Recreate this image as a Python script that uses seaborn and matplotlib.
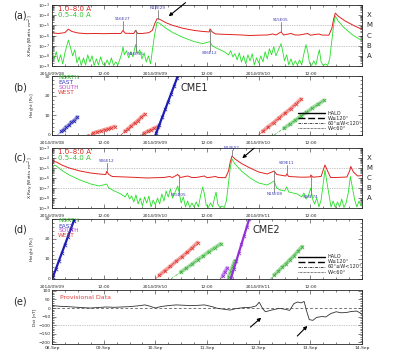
import numpy as np
import matplotlib.pyplot as plt
import seaborn as sns
from matplotlib.ticker import MultipleLocator, FixedLocator, LogLocator, NullFormatter, LogFormatterMathtext
from matplotlib.transforms import blended_transform_factory

sns.set_style("ticks")
plt.rcParams['font.family'] = ['DejaVu Sans']
plt.rcParams['axes.linewidth'] = 0.6

# GOES long channel (1-8 A), hours from 2014/09/08 00:00, log10 flux
long_t = [0, 1.5, 3.0, 3.8, 4.6, 6, 8, 10, 12, 14,
          16, 16.5, 17.0, 19.0, 19.4, 19.9, 21, 22.5, 23.3, 23.9,
          24.4, 25.0, 26.5, 28, 30.5, 33, 35, 36.5, 36.7, 37.2,
          38, 41, 44, 46, 48, 50, 51.3, 52, 53.2, 53.8,
          55.5, 56.5, 57.5, 59.4, 60, 62, 62.6, 64.3, 65.0, 65.4,
          65.8, 66.5, 68, 70, 72, 74, 75.6, 76.2, 78.3, 78.5,
          79, 82, 84, 84.1, 84.6, 86.5, 87.0, 87.4, 88, 88.7,
          90, 92.5, 93.2, 93.4, 94, 95, 96]
long_v = [-5.75, -5.8, -5.72, -5.38, -5.6, -5.75, -5.82, -5.8, -5.82, -5.8,
          -5.8, -5.5, -5.78, -5.8, -5.5, -5.8, -5.8, -5.72, -5.5, -4.8,
          -4.35, -4.4, -4.75, -5.0, -5.3, -5.5, -5.6, -5.65, -5.35, -5.65,
          -5.85, -5.9, -5.95, -6.0, -5.97, -5.95, -5.85, -5.95, -5.65, -5.95,
          -5.8, -5.95, -5.95, -5.8, -5.97, -5.85, -5.95, -5.97, -5.3, -4.4,
          -3.8, -4.1, -4.55, -5.0, -5.4, -5.6, -5.3, -5.65, -5.8, -5.6,
          -5.85, -5.92, -5.9, -5.7, -5.92, -5.85, -5.2, -4.7, -5.3, -5.95,
          -5.95, -5.9, -5.2, -4.85, -5.4, -5.8, -5.75]

# GOES short channel (0.5-4 A)
short_t = [0, 0.5, 1, 1.5, 2, 2.5, 3, 3.8, 4.3, 4.8,
           5.3, 5.8, 6.3, 6.8, 7.3, 7.8, 8.3, 8.8, 9.3, 9.8,
           10.3, 10.8, 11.3, 11.8, 12.3, 12.8, 13.3, 13.8, 14.3, 14.8,
           15.3, 15.8, 16.3, 16.5, 16.8, 17.3, 17.8, 18.3, 18.8, 19.4,
           19.9, 20.4, 20.9, 21.4, 21.9, 22.4, 22.9, 23.3, 23.8, 24.4,
           25, 26.5, 28, 30.5, 33, 35, 36.7, 37.2, 38.5, 40,
           41, 41.5, 42, 42.5, 43, 43.5, 44, 44.5, 45, 45.5,
           46, 46.5, 47, 47.5, 48, 48.5, 49, 49.5, 50, 50.5,
           51, 51.5, 52, 52.6, 53.2, 53.6, 54, 54.5, 55, 55.5,
           56, 56.5, 57, 57.5, 58, 58.5, 59.0, 59.4, 59.8, 60.3,
           60.8, 61.3, 61.8, 62.1, 62.5, 63, 63.5, 64, 64.5, 65.0,
           65.4, 65.8, 66.5, 68, 70, 72, 74, 75.6, 76.2, 77,
           78, 78.5, 79, 80, 81, 82, 82.5, 83, 83.5, 84.1,
           84.6, 85, 85.5, 86, 86.5, 87.0, 87.4, 87.8, 88.3, 88.8,
           89.3, 89.8, 90.3, 90.8, 91.3, 91.8, 92.3, 92.8, 93.3, 93.8,
           94.3, 94.8, 95.3, 95.8, 96]
short_v = [-7.5, -8.3, -7.6, -8.6, -7.9, -8.8, -7.7, -6.45, -7.2, -8.0,
           -7.4, -8.7, -8.1, -8.95, -8.2, -8.9, -7.9, -8.6, -8.0, -8.95,
           -8.3, -8.9, -8.1, -8.8, -8.95, -8.4, -8.9, -8.2, -8.95, -8.6,
           -8.9, -8.3, -7.6, -7.1, -7.9, -7.5, -8.2, -7.6, -8.1, -6.9,
           -7.8, -7.4, -8.3, -7.7, -8.6, -8.0, -8.8, -7.5, -6.0, -4.7,
           -4.8, -5.3, -5.7, -6.2, -6.6, -6.8, -6.6, -7.0, -7.3, -7.6,
           -7.9, -7.5, -8.1, -7.8, -8.4, -7.7, -8.6, -8.0, -8.8, -7.9,
           -8.5, -7.8, -8.9, -8.2, -8.7, -8.0, -8.6, -7.6, -8.3, -7.3,
           -7.9, -7.1, -8.0, -7.4, -6.8, -7.6, -8.5, -7.9, -8.9, -8.3,
           -8.95, -8.5, -8.9, -8.4, -8.9, -7.8, -6.9, -7.6, -8.7, -8.95,
           -8.5, -8.9, -7.9, -7.4, -8.6, -8.95, -8.8, -8.95, -8.3, -6.5,
           -5.0, -4.1, -4.6, -5.3, -6.0, -6.5, -6.7, -6.3, -7.0, -7.2,
           -7.3, -6.9, -7.4, -7.5, -7.6, -7.9, -7.5, -8.1, -7.8, -7.0,
           -8.2, -8.6, -8.0, -8.9, -8.2, -6.5, -5.2, -6.3, -7.6, -8.9,
           -8.3, -8.95, -8.4, -8.9, -8.1, -8.95, -8.5, -7.5, -5.85, -7.0,
           -8.2, -8.9, -8.3, -8.8, -8.4]

# flare source labels: time, text, log10 position of label
flare_a_t = [16.5, 19.4, 24.6, 36.6, 53.2]
flare_a_lbl = ['S16E27', 'N16E35', 'N12E29', 'S06E12', 'S15E05']
flare_a_pos = [-4.6, -7.6, -3.45, -7.5, -4.65]
flare_c_t = [36.7, 53.4, 65.8, 75.6, 78.5, 84.1]
flare_c_lbl = ['S06E12', 'S15E05', 'N14E02', 'N15E08', 'S09E11', 'S08E74']
flare_c_pos = [-4.55, -7.5, -3.2, -7.4, -4.75, -7.7]

class_names = ['X', 'M', 'C', 'B', 'A']
class_levels = [-4, -5, -6, -7, -8]

# CME height-time points (hours from 2014/09/08 00:00, solar radii)
cme_t = [[2.2, 2.7, 3.3, 3.9, 4.5, 5.1, 5.9],
         [9.6, 10.5, 11.3, 12.2, 13.0, 13.8, 14.6],
         [16.9, 17.6, 18.4, 19.2, 19.9, 20.7, 21.5],
         [21.4, 22.2, 23.0, 23.8, 24.6],
         [24.2, 24.9, 25.6, 26.3, 27.0, 27.7, 28.4, 29.0],
         [48.9, 50.2, 51.5, 52.8, 54.1, 55.4, 56.6, 57.8],
         [53.9, 55.2, 56.5, 57.8, 59.1, 60.4, 61.8, 63.2],
         [63.6, 64.1, 64.7],
         [65.0, 65.5, 66.0, 66.4],
         [65.6, 66.2, 66.8, 67.4, 68.0, 68.6, 69.2, 69.8],
         [75.6, 76.5, 77.4, 78.3, 79.2, 80.2, 81.1, 82.1]]
cme_r = [[1.8, 2.6, 4.1, 4.9, 6.5, 7.2, 9.1],
         [1.0, 1.6, 2.0, 2.7, 3.1, 3.8, 4.3],
         [1.8, 3.0, 4.6, 6.0, 7.2, 8.9, 10.5],
         [0.9, 1.8, 2.6, 3.5, 4.3],
         [1.0, 5.1, 9.0, 13.2, 17.0, 21.1, 25.0, 29.0],
         [1.8, 4.2, 6.3, 8.8, 11.0, 13.3, 15.7, 18.2],
         [3.5, 5.4, 7.4, 9.7, 11.5, 13.7, 15.6, 17.6],
         [1.5, 3.4, 5.5],
         [1.0, 3.8, 6.6, 9.0],
         [0.7, 4.8, 9.0, 13.1, 17.3, 21.6, 25.8, 30.0],
         [2.0, 3.8, 5.9, 7.5, 9.6, 11.6, 13.9, 16.2]]
cme_dir = ['EAST', 'WEST', 'WEST', 'WEST', 'EAST', 'WEST', 'NORTH', 'SOUTH', 'NORTH', 'SOUTH', 'NORTH']
cme_width = ['<60', '60-120', '60-120', '<60', 'halo', '60-120', '60-120', '<60', '>=120', 'halo', '60-120']
# catalogue window (first-appearance hours) plotted in each CME panel
window_b = (0, 60)
window_d = (23, 96)

dir_names = ['NORTH', 'EAST', 'SOUTH', 'WEST']
width_keys = ['halo', '>=120', '60-120', '<60']
width_labels = ['HALO', 'W\u2265120\u00b0', '60\u00b0\u2264W<120\u00b0', 'W<60\u00b0']

# Dst index, days from 08-Sep 00:00
dst_day = [0.00, 0.15, 0.30, 0.45, 0.60, 0.75, 0.90, 1.05, 1.20, 1.35,
           1.50, 1.65, 1.80, 1.90, 2.00, 2.10, 2.25, 2.40, 2.55, 2.70,
           2.85, 2.95, 3.10, 3.20, 3.35, 3.45, 3.55, 3.70, 3.85, 3.95,
           4.01, 4.08, 4.13, 4.25, 4.40, 4.52, 4.60, 4.68, 4.75, 4.82,
           4.88, 4.93, 4.98, 5.05, 5.12, 5.22, 5.30, 5.40, 5.50, 5.60,
           5.70, 5.80, 5.90, 5.97, 6.00]
dst_val = [14, 10, 8, 5, 2, 0, 3, 6, 4, 6,
           8, 12, 18, 10, 0, 8, 14, 18, 16, 14,
           16, 18, 8, -2, -8, -12, -4, 2, 4, 12,
           34, -5, -22, -12, -2, -8, -14, 25, 35, 30,
           38, -20, -68, -72, -55, -50, -52, -32, -22, -28,
           -26, -20, -18, -30, -38]
dst_labels = ['08-Sep', '09-Sep', '10-Sep', '11-Sep', '12-Sep', '13-Sep', '14-Sep']

RED = '#e0231e'
LIME = '#25e025'
cme_colors = {'NORTH': '#36b236', 'EAST': '#1d1db4', 'SOUTH': '#9430d8', 'WEST': '#e2352f'}
text_colors = {'NORTH': '#36b236', 'EAST': '#3a3ac0', 'SOUTH': '#c04cd0', 'WEST': '#e0403a'}
width_styles = {'halo': '-', '>=120': (0, (5, 2)), '60-120': (0, (4, 1.5, 1, 1.5)), '<60': (0, (1, 1))}

fig = plt.figure(figsize=(4.19, 3.51), dpi=100)


def box(top, bot):
    return [52 / 419, 1 - bot / 351, 310 / 419, (bot - top) / 351]


ax_a = fig.add_axes(box(5, 66))
ax_b = fig.add_axes(box(76, 135))
ax_c = fig.add_axes(box(148, 208))
ax_d = fig.add_axes(box(219, 279))
ax_e = fig.add_axes(box(290, 344))


def style_ticks(ax):
    ax.tick_params(which='both', direction='in', top=True, right=True, width=0.4,
                   labelsize=3.2, pad=1.2)
    ax.tick_params(axis='x', pad=4.0)
    ax.tick_params(which='major', length=2.8)
    ax.tick_params(which='minor', length=1.5)
    ax.yaxis.set_label_coords(-0.05, 0.5)


def time_axis(ax, start, labels):
    ax.set_xlim(start, start + 72)
    ax.set_xticks(start + np.arange(0, 72, 12))
    ax.set_xticklabels(labels)
    ax.xaxis.set_minor_locator(MultipleLocator(3))
    ax.set_xlabel('')
    style_ticks(ax)


def goes_panel(ax, start, labels, fl_t, fl_lbl, fl_pos, arrow):
    ax.set_yscale('log')
    for lev in [-5, -7]:
        ax.axhline(10.0 ** lev, color='#909090', lw=0.5, ls=(0, (1, 1.5)))
    sns.lineplot(x=short_t, y=10.0 ** np.array(short_v), color=LIME, lw=0.6, ax=ax)
    sns.lineplot(x=long_t, y=10.0 ** np.array(long_v), color=RED, lw=0.7, ax=ax)
    for t, s, p in zip(fl_t, fl_lbl, fl_pos):
        c = np.interp(t, long_t, long_v)
        va = 'bottom' if p > c else 'top'
        ax.plot([t, t], [10.0 ** p, 10.0 ** c], color='#7a7a7a', lw=0.6)
        ax.text(t, 10.0 ** p, s, fontsize=3, color='#3b3bb0', ha='center', va=va)
    ax.set_ylim(1e-9, 1e-3)
    ax.yaxis.set_major_locator(FixedLocator(10.0 ** np.arange(-9, -2)))
    ax.yaxis.set_major_formatter(LogFormatterMathtext())
    ax.yaxis.set_minor_locator(LogLocator(base=10, subs=np.arange(2, 10)))
    ax.yaxis.set_minor_formatter(NullFormatter())
    ax.set_ylabel('X-Ray [Watts m$^{-2}$]', fontsize=3.2)
    tr = blended_transform_factory(ax.transAxes, ax.transData)
    for cls, e in zip(class_names, class_levels):
        ax.text(1.015, 10.0 ** e, cls, transform=tr, fontsize=5, va='center')
    ax.text(0.02, 0.99, '1.0\u20138.0 A', color=RED, transform=ax.transAxes, fontsize=5, va='top')
    ax.text(0.02, 0.88, '0.5\u20134.0 A', color='#2fc82f', transform=ax.transAxes, fontsize=5, va='top')
    ax.annotate('', xy=(arrow[0], 10.0 ** arrow[1]), xytext=(arrow[2], 10.0 ** arrow[3]),
                arrowprops=dict(arrowstyle='-|>', color='k', lw=0.8, mutation_scale=5),
                annotation_clip=False)
    time_axis(ax, start, labels)


def cme_panel(ax, start, labels, window, dir_y, tag, tag_xy):
    for t, r, d, w in zip(cme_t, cme_r, cme_dir, cme_width):
        if not window[0] <= t[0] < window[1]:
            continue
        col = cme_colors[d]
        fit = np.polyfit(r, t, 1)
        top = 32 if w == 'halo' else max(r)
        rr = np.array([0, top])
        ax.plot(np.polyval(fit, rr), rr, color=col, ls=width_styles[w],
                lw=1.6 if w == 'halo' else 0.5)
        if w != 'halo':
            sns.lineplot(x=t, y=r, color=col, lw=2.8, alpha=0.45, ax=ax)
        sns.scatterplot(x=t, y=r, color=col, marker='x', s=6, linewidth=0.5, ax=ax)
    ax.set_ylim(0, 30)
    ax.set_yticks([0, 10, 20, 30])
    ax.yaxis.set_minor_locator(MultipleLocator(2))
    ax.set_ylabel('Height [R$_s$]', fontsize=3.2)
    for name, y in zip(dir_names, dir_y):
        ax.text(0.02, y, name, color=text_colors[name], fontsize=4.2,
                transform=ax.transAxes, va='center')
    for i, (w, lab) in enumerate(zip(width_keys, width_labels)):
        y = 0.37 - i * 0.085
        ax.plot([0.794, 0.881], [y, y], transform=ax.transAxes, color='k',
                ls=width_styles[w], lw=1.0 if i < 2 else 0.5)
        ax.text(0.89, y, lab, transform=ax.transAxes, fontsize=3.6, va='center')
    ax.text(tag_xy[0], tag_xy[1], tag, transform=ax.transAxes, fontsize=7, va='center')
    time_axis(ax, start, labels)


labels_a = ['2014/09/08', '12:00', '2014/09/09', '12:00', '2014/09/10', '12:00']
labels_c = ['2014/09/09', '12:00', '2014/09/10', '12:00', '2014/09/11', '12:00']

goes_panel(ax_a, 0, labels_a, flare_a_t, flare_a_lbl, flare_a_pos, (26.6, -4.28, 31.5, -2.6))
cme_panel(ax_b, 0, labels_a, window_b, [0.975, 0.89, 0.80, 0.715], 'CME1', (0.413, 0.8))
goes_panel(ax_c, 24, labels_c, flare_c_t, flare_c_lbl, flare_c_pos, (67.7, -4.2, 71.4, -2.85))
cme_panel(ax_d, 24, labels_c, window_d, [0.967, 0.883, 0.80, 0.717], 'CME2', (0.648, 0.817))

# Dst panel
ax_e.axhline(0, color='#404040', lw=0.5, ls=(0, (4, 3)))
ax_e.axhline(-100, color='#909090', lw=0.5, ls=(0, (1, 1.5)))
sns.lineplot(x=dst_day, y=dst_val, color='#303030', lw=0.6, ax=ax_e)
ax_e.set_xlim(0, 6)
ax_e.set_xticks(np.arange(len(dst_labels)))
ax_e.set_xticklabels(dst_labels)
ax_e.xaxis.set_minor_locator(MultipleLocator(0.25))
ax_e.set_ylim(-210, 105)
ax_e.set_yticks(np.arange(-200, 101, 50))
ax_e.yaxis.set_minor_locator(MultipleLocator(10))
ax_e.set_ylabel('Dst [nT]', fontsize=3.2)
style_ticks(ax_e)
ax_e.tick_params(axis='x', pad=1.5)
ax_e.text(0.025, 0.86, 'Provisional Data', color='#e04040', fontsize=4.5,
          transform=ax_e.transAxes, va='center')
for hx, hy, tx, ty in [(4.09, -46, 3.80, -122), (4.98, -93, 4.71, -175)]:
    ax_e.annotate('', xy=(hx, hy), xytext=(tx, ty),
                  arrowprops=dict(arrowstyle='-|>', color='k', lw=0.8, mutation_scale=5))

for lab, y in zip(['(a)', '(b)', '(c)', '(d)', '(e)'], [15, 87, 157, 230, 302]):
    fig.text(20 / 419, 1 - y / 351, lab, fontsize=7, ha='center', va='center')

fig.savefig('out.png', dpi=100)
